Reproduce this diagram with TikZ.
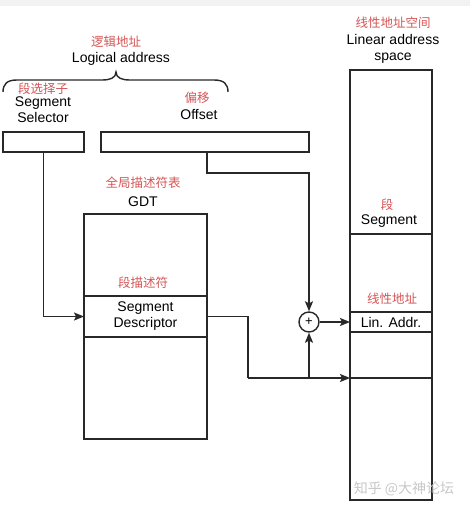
\documentclass[tikz,border=0pt]{standalone}
\usepackage{fontspec}
\setmainfont{Liberation Sans}
\newfontfamily\cjk{Noto Sans CJK SC}
\usetikzlibrary{arrows.meta}
\definecolor{cnred}{RGB}{214,84,84}
\definecolor{ink}{RGB}{40,40,40}
\begin{document}
\begin{tikzpicture}[x=1pt,y=-1pt,line width=1.4pt,draw=ink,
  en/.style={font=\fontsize{14}{16}\selectfont,text=black,inner sep=0pt,align=center},
  zh/.style={font=\cjk\fontsize{12.5}{14}\selectfont,text=cnred,inner sep=0pt},
  box/.style={draw=ink,rectangle,inner sep=0pt,outer sep=0pt},
  arr/.style={-{Stealth[length=10pt,width=8pt,inset=2pt]}}]
\useasboundingbox (0,0) rectangle (470,511);
\fill[black!5] (0,0) rectangle (470,6);

% logical address
\node[zh] (lzh) at (116,42) {逻辑地址};
\node[en] (len) at (121,59) {Logical address};
\draw[ink] (3,92) .. controls (3,84) and (7,80) .. (17,80) -- (102,80)
  .. controls (110,80) and (116,78) .. (116,72)
  .. controls (116,78) and (122,80) .. (130,80) -- (214,80)
  .. controls (224,80) and (228,84) .. (228,92);

\node[zh] (selzh) at (43,89) {段选择子};
\node[en] (selen) at (43,110) {Segment\\Selector};
\node[zh] (offzh) at (197,98) {偏移};
\node[en] (offen) at (199,115) {Offset};

\node[box,minimum width=81pt,minimum height=20pt] (sel) at (43.5,142) {};
\node[box,minimum width=208pt,minimum height=20pt] (off) at (205,142) {};

% GDT
\node[zh] (gdtzh) at (143,183) {全局描述符表};
\node[en] (gdten) at (143,202) {GDT};
\node[box,minimum width=123pt,minimum height=225pt] (gdt) at (145.5,326.5) {};
\node[zh] (desczh) at (143,283) {段描述符};
\node[box,en,minimum width=123pt,minimum height=41pt] (desc) at (145.5,316.5) {Segment\\Descriptor};

% linear address space
\node[zh] (linzh) at (393,23) {线性地址空间};
\node[en] (linen) at (393,49) {Linear address\\space};
\node[box,minimum width=82pt,minimum height=430pt] (lin) at (391,285) {};
\draw (lin.west |- 0,234) -- (lin.east |- 0,234);
\node[zh] (segzh) at (387,205) {段};
\node[en] (segen) at (389,221) {Segment};
\node[zh] (lazh) at (392,299) {线性地址};
\node[box,en,minimum width=82pt,minimum height=20pt] (la) at (391,322) {Lin. Addr.};

% adder
\node[circle,draw=ink,minimum size=20pt,inner sep=0pt,font=\fontsize{13}{13}\selectfont] (plus) at (309,322) {+};

\coordinate (j) at (248,378);
\coordinate (k) at (309,378);

% connectors
\draw[arr] (sel.south) |- (desc.west);
\draw[arr] ([xshift=2pt]off.south) |- (309,173) -- (plus.north);
\draw (desc.east) -| (j);
\draw[arr] (j) -- (lin.west |- j);
\draw (lin.west |- j) -- (lin.east |- j);
\draw[arr] (k) -- (plus.south);
\draw[arr] (plus.east) -- (la.west);

% watermark
\node[font=\cjk\fontsize{14}{16}\selectfont,text=black!22,inner sep=0pt] (wm) at (404,489) {知乎 @大神论坛};
\end{tikzpicture}
\end{document}
